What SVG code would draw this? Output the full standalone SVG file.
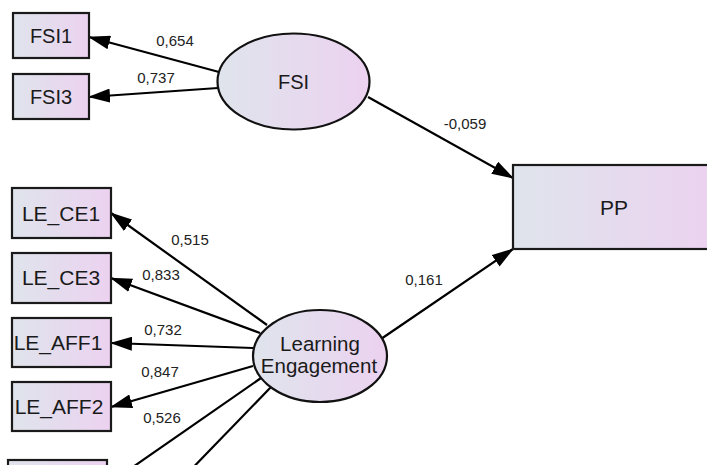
<svg xmlns="http://www.w3.org/2000/svg" width="707" height="465" viewBox="0 0 707 465">
<defs>
<linearGradient id="g" x1="0" y1="0" x2="1" y2="0">
<stop offset="0" stop-color="#dfe4ec"/>
<stop offset="1" stop-color="#ecd2f0"/>
</linearGradient>
<marker id="ah" markerUnits="userSpaceOnUse" markerWidth="22" markerHeight="14" refX="21" refY="7" orient="auto">
<path d="M0,0 L22,7 L0,14 z" fill="#000"/>
</marker>
<style>
.box{fill:url(#g);stroke:#1a1a1a;stroke-width:2.2}
.lat{fill:url(#g);stroke:#111;stroke-width:2.2}
.t{font-family:"Liberation Sans",Arial,sans-serif;font-size:20px;fill:#1a1a1a;text-anchor:middle}
.n{font-family:"Liberation Sans",Arial,sans-serif;font-size:15px;fill:#222;text-anchor:middle}
.c line{stroke:#000;stroke-width:2.2;marker-end:url(#ah)}
</style>
</defs>
<rect width="707" height="465" fill="#fff"/>
<g class="c" id="connectors">
<line x1="219" y1="72" x2="89" y2="37"/>
<line x1="218" y1="88" x2="89" y2="97"/>
<line x1="368" y1="97" x2="513" y2="178"/>
<line x1="381" y1="339" x2="513" y2="249"/>
<line x1="267" y1="325" x2="111" y2="213"/>
<line x1="260" y1="333" x2="111" y2="278"/>
<line x1="253" y1="348" x2="111" y2="343"/>
<line x1="253" y1="366" x2="111" y2="407"/>
<line x1="261" y1="378" x2="107" y2="485"/>
<line x1="271" y1="387" x2="150" y2="512"/>
</g>
<g class="n" id="labels">
<text x="175" y="46">0,654</text>
<text x="156" y="83">0,737</text>
<text x="465" y="129">-0,059</text>
<text x="424" y="285">0,161</text>
<text x="190" y="245">0,515</text>
<text x="161" y="280">0,833</text>
<text x="163" y="335">0,732</text>
<text x="160" y="377">0,847</text>
<text x="162" y="423">0,526</text>
</g>
<g id="FSI1"><rect class="box" x="13" y="13" width="76" height="45"/><text class="t" x="51" y="43">FSI1</text></g>
<g id="FSI3"><rect class="box" x="13" y="74" width="76" height="45"/><text class="t" x="51" y="104">FSI3</text></g>
<g id="FSI"><ellipse class="lat" cx="293.5" cy="81.5" rx="76" ry="48"/><text class="t" x="293.5" y="89">FSI</text></g>
<g id="PP"><rect class="box" x="513" y="165" width="203" height="84"/><text class="t" x="614" y="215" style="font-size:21px">PP</text></g>
<g id="LE_CE1"><rect class="box" x="12" y="188" width="99" height="50"/><text class="t" x="61" y="221" style="font-size:21px">LE_CE1</text></g>
<g id="LE_CE3"><rect class="box" x="12" y="253" width="99" height="50"/><text class="t" x="61" y="285" style="font-size:21px">LE_CE3</text></g>
<g id="LE_AFF1"><rect class="box" x="12" y="318" width="99" height="49"/><text class="t" x="58" y="350" style="font-size:21px">LE_AFF1</text></g>
<g id="LE_AFF2"><rect class="box" x="12" y="382" width="99" height="49"/><text class="t" x="59" y="414" style="font-size:21px">LE_AFF2</text></g>
<g id="LE_hidden"><rect class="box" x="8" y="460" width="99" height="50"/></g>
<g id="LearningEngagement"><ellipse class="lat" cx="320" cy="356" rx="67" ry="46"/><text class="t" x="320" y="351" style="font-size:20.5px">Learning</text><text class="t" x="319" y="373" style="font-size:20.5px">Engagement</text></g>
</svg>
